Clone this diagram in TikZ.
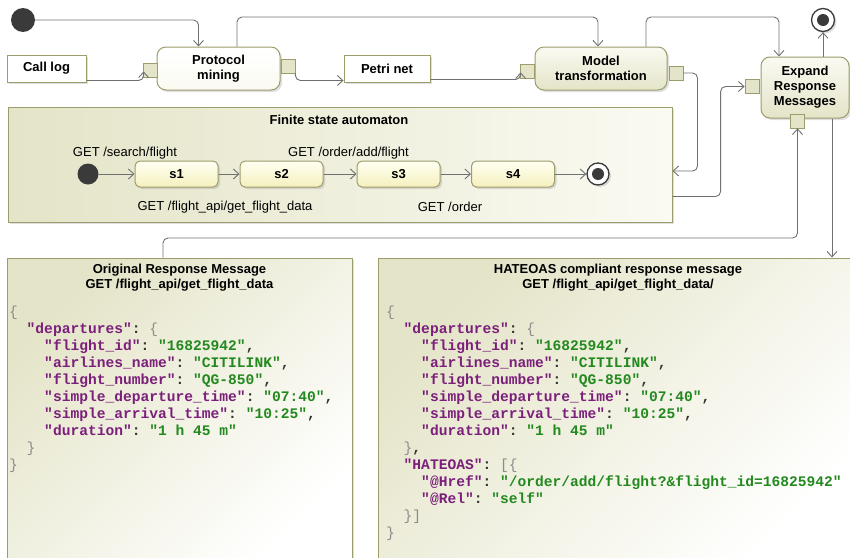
\documentclass[tikz,border=0pt]{standalone}
\usepackage{fontspec}
\setmainfont{Liberation Sans}
\setmonofont{Liberation Mono}
\usetikzlibrary{arrows.meta,shadows}
\definecolor{umlline}{HTML}{9C9C6C}
\definecolor{wirec}{HTML}{707070}
\definecolor{khaki}{HTML}{E4E4C8}
\definecolor{pale}{HTML}{FAFAF2}
\definecolor{stlight}{HTML}{FFFFF2}
\definecolor{stdark}{HTML}{F5F0BE}
\definecolor{dot}{HTML}{3A3A3A}
\definecolor{jkey}{HTML}{7B1F7B}
\definecolor{jval}{HTML}{23891F}
\definecolor{jbr}{HTML}{8C8C8C}
\definecolor{jtxt}{HTML}{333333}
\newcommand\jk[1]{\textcolor{jkey}{"#1"}:}
\newcommand\jv[1]{\textcolor{jval}{"#1"}}
\newcommand\jb[1]{\textcolor{jbr}{\mdseries#1}}
\newcommand\ii{\hspace*{1.2em}}
\tikzset{
  conn/.style={draw=wirec,line width=0.9pt,rounded corners=5pt,-{Straight Barb[length=5.5pt,width=10pt]}},
  shdw/.style={drop shadow={shadow xshift=2pt,shadow yshift=-2pt,opacity=0.25}},
  act/.style={shdw,draw=umlline,line width=1pt,rounded corners=9pt,align=center,inner sep=0pt,
    minimum height=43pt,top color=pale,bottom color=khaki,font=\fontsize{13}{15}\selectfont\bfseries},
  obj/.style={shdw,draw=umlline,line width=1pt,fill=white,inner sep=0pt,minimum height=27pt,
    font=\fontsize{13}{15}\selectfont\bfseries},
  pinbox/.style={draw=umlline,line width=0.8pt,fill=khaki,inner sep=0pt,minimum size=14pt},
  st/.style={shdw,draw=umlline,line width=1pt,rounded corners=5pt,top color=stlight,bottom color=stdark,
    minimum width=83pt,minimum height=26pt,inner sep=0pt,font=\fontsize{13}{15}\selectfont\bfseries},
  pane/.style={shdw,draw=umlline,line width=1pt,top color=khaki,bottom color=white,shading angle=45},
  ini/.style={circle,fill=dot,inner sep=0pt,minimum size=24pt},
  fin/.style={shdw,circle,draw=dot,line width=1.3pt,fill=white,inner sep=0pt,minimum size=22pt,
    path picture={\fill[dot] (path picture bounding box.center) circle (6pt);}},
  ttl/.style={align=center,font=\fontsize{13}{14.7}\selectfont\bfseries},
  lbl/.style={font=\fontsize{13}{15}\selectfont},
  json/.style={anchor=north west,inner sep=0pt,align=left,text=jtxt,
    font=\fontsize{14.6}{17}\selectfont\ttfamily\bfseries}
}
\begin{document}
\begin{tikzpicture}[x=1pt,y=-1pt]
\useasboundingbox (0,0) rectangle (850,557);
\clip (0,0) rectangle (850,557);
\node[pane,minimum width=345pt,minimum height=309pt] (orig) at (179.5,412.5) {};
\node[pane,minimum width=484pt,minimum height=309pt] (hat) at (620,412.5) {};
\node[pane,left color=khaki,right color=pale,minimum width=664pt,minimum height=115pt] (fsa) at (340,164.5) {};
\node[ttl] (otl) at (179.5,278) {Original Response Message\\GET /flight\_api/get\_flight\_data};
\node[ttl] (htl) at (618,278) {HATEOAS compliant response message\\GET /flight\_api/get\_flight\_data/};
\node[json] (ojs) at (9,306) {\jb{\{}\\
\ii\jk{departures} \jb{\{}\\
\ii\ii\jk{flight\_id} \jv{16825942},\\
\ii\ii\jk{airlines\_name} \jv{CITILINK},\\
\ii\ii\jk{flight\_number} \jv{QG-850},\\
\ii\ii\jk{simple\_departure\_time} \jv{07:40},\\
\ii\ii\jk{simple\_arrival\_time} \jv{10:25},\\
\ii\ii\jk{duration} \jv{1 h 45 m}\\
\ii\jb{\}}\\
\jb{\}}};
\node[json] (hjs) at (386,306) {\jb{\{}\\
\ii\jk{departures} \jb{\{}\\
\ii\ii\jk{flight\_id} \jv{16825942},\\
\ii\ii\jk{airlines\_name} \jv{CITILINK},\\
\ii\ii\jk{flight\_number} \jv{QG-850},\\
\ii\ii\jk{simple\_departure\_time} \jv{07:40},\\
\ii\ii\jk{simple\_arrival\_time} \jv{10:25},\\
\ii\ii\jk{duration} \jv{1 h 45 m}\\
\ii\jb{\}},\\
\ii\jk{HATEOAS} \jb{[\{}\\
\ii\ii\jk{@Href} \jv{/order/add/flight?\&flight\_id=16825942}\\
\ii\ii\jk{@Rel} \jv{self}\\
\ii\jb{\}]}\\
\jb{\}}};
\node[ttl] (ftl) at (339,120) {Finite state automaton};
\foreach \n/\x in {s1/176.5,s2/281.5,s3/398.5,s4/513}
  \node[st] (\n) at (\x,174) {\n};
\node[ini,minimum size=21pt] (fi) at (88,174) {};
\node[fin] (ff) at (598,174) {};
\foreach \a/\b in {fi/s1,s1/s2,s2/s3,s3/s4,s4/ff} \draw[conn] (\a) -- (\b);
\node[lbl] (l1) at (125,153) {GET /search/flight};
\node[lbl] (l2) at (348.5,153) {GET /order/add/flight};
\node[lbl] (l3) at (225,207) {GET /flight\_api/get\_flight\_data};
\node[lbl] (l4) at (450,207) {GET /order};
\node[obj,minimum width=79pt] (call) at (46.5,68.5) {Call log};
\node[act,top color=white,bottom color=pale,minimum width=123pt] (pm) at (218.5,68.5) {Protocol\\mining};
\node[pinbox] (pmin) at (150,70) {};
\node[pinbox] (pmout) at (288,66) {};
\node[obj,minimum width=86pt] (petri) at (387,68.5) {Petri net};
\node[act,minimum width=132pt] (mt) at (601,68.5) {Model\\transformation};
\node[pinbox] (mtin) at (527,71) {};
\node[pinbox] (mtout) at (676,73) {};
\node[act,minimum width=88pt,minimum height=61pt] (ex) at (805,87.5) {Expand\\Response\\Messages};
\node[pinbox] (exin) at (752,86.5) {};
\node[pinbox] (exbot) at (797.5,121) {};
\node[ini] (ini) at (23,20) {};
\node[fin,minimum size=23pt] (fin) at (823,20) {};
\draw[conn] (ini) -| ([xshift=-20pt]pm.north);
\draw[conn] ([yshift=2pt]call.south east) -| ([xshift=1pt,yshift=6pt]pmin.south west);
\draw[conn] (pmout.south east) |- ([yshift=2pt]petri.south west);
\draw[conn] ([xshift=18.5pt]pm.north) |- (420,17) -| ([xshift=-3pt]mt.north);
\draw[conn] ([yshift=3pt]petri.south east) -| ([xshift=1pt,yshift=6pt]mtin.south west);
\draw[conn] ([xshift=45pt]mt.north) |- (720,17) -| ([xshift=-26pt]ex.north);
\draw[conn] (ex.north -| fin) -- (fin);
\draw[conn] (mtout.east) -| ([xshift=25pt,yshift=-6.5pt]fsa.east) -- ([yshift=-6.5pt]fsa.east);
\draw[conn] ([yshift=-32pt]fsa.east) -| ([xshift=-24pt]exin.west) -- (exin.west);
\draw[conn] ([xshift=-16.5pt]orig.north) |- (480,238) -| (exbot.south);
\draw[conn] ([xshift=27pt]ex.south) -- ([xshift=27pt]ex.south |- hat.north);
\end{tikzpicture}
\end{document}
